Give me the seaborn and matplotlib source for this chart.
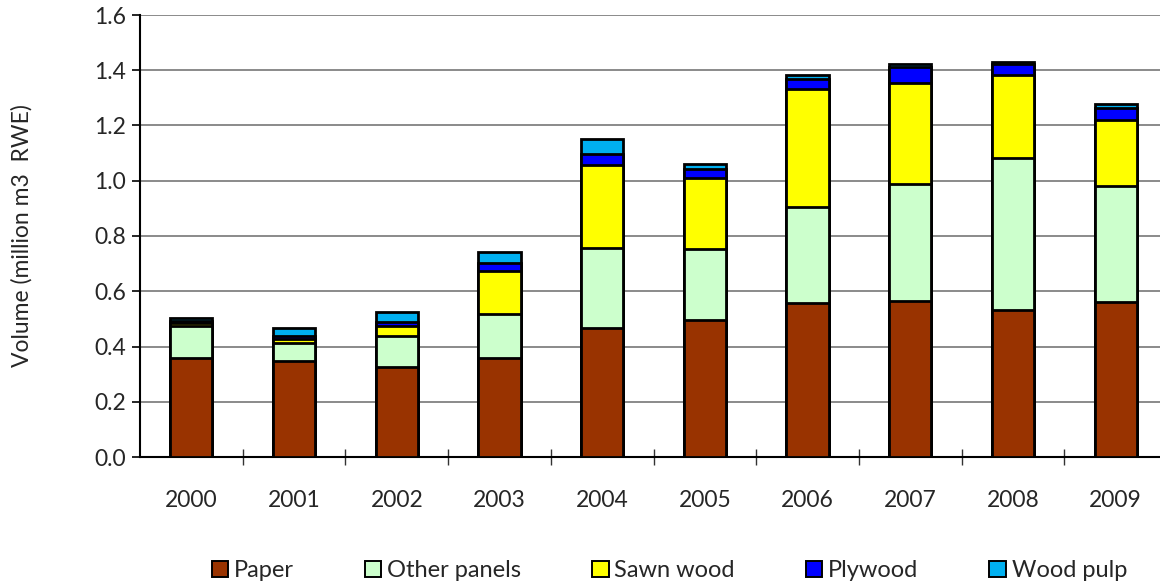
import numpy as np
import pandas as pd
import matplotlib
matplotlib.use("Agg")
import matplotlib.pyplot as plt
import seaborn as sns
from matplotlib.patches import Patch
from matplotlib.ticker import FixedLocator, FormatStrFormatter

years = ["2000", "2001", "2002", "2003", "2004", "2005", "2006", "2007", "2008", "2009"]
paper = [0.357, 0.347, 0.327, 0.360, 0.466, 0.496, 0.556, 0.565, 0.533, 0.561]
other_panels = [0.118, 0.064, 0.111, 0.158, 0.290, 0.257, 0.348, 0.422, 0.548, 0.419]
sawn_wood = [0.009, 0.017, 0.037, 0.156, 0.301, 0.256, 0.427, 0.366, 0.301, 0.240]
plywood = [0.009, 0.010, 0.012, 0.027, 0.039, 0.032, 0.037, 0.058, 0.041, 0.042]
wood_pulp = [0.009, 0.030, 0.038, 0.042, 0.055, 0.020, 0.015, 0.010, 0.008, 0.016]

series_names = ["Paper", "Other panels", "Sawn wood", "Plywood", "Wood pulp"]
series_vals = [paper, other_panels, sawn_wood, plywood, wood_pulp]
colors = ["#993300", "#CCFFCC", "#FFFF00", "#0000FF", "#00B0F0"]

sns.set_theme(style="white")
plt.rcParams['font.family'] = ['Lato', 'DejaVu Sans']

fig = plt.figure(figsize=(11.6, 5.85), dpi=100)
ax = fig.add_axes([140/1160, 128/585, 1027/1160, 442/585])

# cumulative stacking, drawn from the top series down
cum = np.cumsum(np.array(series_vals), axis=0)
for i in range(len(series_names) - 1, -1, -1):
    df = pd.DataFrame({"year": years, "value": cum[i]})
    sns.barplot(data=df, x="year", y="value", color=colors[i], width=0.41,
                edgecolor="black", linewidth=2.0, saturation=1, ax=ax, zorder=3)

ax.set_ylim(0, 1.6)
ax.set_xlim(-0.5, len(years) - 0.5)
ax.yaxis.set_major_locator(FixedLocator(np.arange(0, 1.61, 0.2)))
ax.yaxis.set_major_formatter(FormatStrFormatter("%.1f"))
ax.yaxis.grid(True, color="#8a8a8a", linewidth=1.4, zorder=0)
ax.set_axisbelow(True)

for s in ["top", "right"]:
    ax.spines[s].set_visible(False)
for s in ["left", "bottom"]:
    ax.spines[s].set_color("black")
    ax.spines[s].set_linewidth(1.5)

ax.tick_params(axis="y", which="major", direction="out", length=6, width=1.2,
               color="black", labelsize=16.5, pad=4, left=True)
ax.tick_params(axis="x", which="major", length=0, labelsize=16.5, pad=24)
ax.set_xticks(np.arange(len(years)))
ax.set_xticklabels(years)
ax.xaxis.set_minor_locator(FixedLocator(np.arange(0.5, len(years) - 0.5, 1.0)))
ax.tick_params(axis="x", which="minor", direction="inout", length=12, width=1.0,
               color="#333333", bottom=True)
ax.set_xlabel("")
ax.set_ylabel("Volume (million m3  RWE)", fontsize=16.5, labelpad=44)

handles = [Patch(facecolor=c, edgecolor="black", linewidth=1.4, label=n)
           for n, c in zip(series_names, colors)]
fig.legend(handles=handles, loc="center", bbox_to_anchor=(0.577, 0.024), ncol=5,
           frameon=False, fontsize=17, handlelength=0.7, handleheight=0.7,
           handletextpad=0.25, columnspacing=3.0)

fig.savefig("out.png", dpi=100)
